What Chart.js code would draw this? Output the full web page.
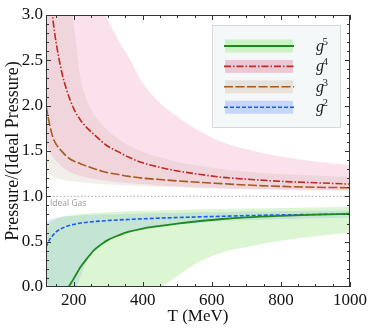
<!DOCTYPE html>
<html>
<head>
<meta charset="utf-8">
<script src="https://cdn.jsdelivr.net/npm/chart.js@4.4.0/dist/chart.umd.min.js"></script>
<style>
	html, body { margin: 0; padding: 0; background: #fff; }
	canvas { display: block; }
</style>
</head>
<body>
<canvas id="pressure-chart" width="375" height="329"></canvas>
<script>
// temperature grid (MeV)
var temps = [120, 130, 140, 150, 165, 180, 200, 220, 240, 260, 280, 300, 330, 360, 400, 450, 500, 560, 630, 700, 800, 900, 1000];

// central curves
var g5 = [-1.2, -0.85, -0.6, -0.4, -0.18, -0.04, 0.09, 0.22, 0.32, 0.41, 0.47, 0.52, 0.57, 0.61, 0.645, 0.675, 0.70, 0.725, 0.75, 0.768, 0.785, 0.798, 0.808];
var g4 = [3.9, 3.35, 2.95, 2.68, 2.38, 2.17, 1.97, 1.84, 1.75, 1.68, 1.61, 1.55, 1.49, 1.43, 1.37, 1.32, 1.28, 1.245, 1.21, 1.19, 1.165, 1.15, 1.135];
var g3 = [2.0, 1.8, 1.65, 1.57, 1.5, 1.44, 1.39, 1.36, 1.33, 1.305, 1.28, 1.26, 1.24, 1.22, 1.2, 1.185, 1.17, 1.155, 1.14, 1.125, 1.11, 1.10, 1.095];
var g2 = [0.44, 0.52, 0.57, 0.61, 0.645, 0.67, 0.69, 0.705, 0.715, 0.722, 0.728, 0.733, 0.74, 0.745, 0.752, 0.76, 0.766, 0.773, 0.78, 0.787, 0.795, 0.80, 0.805];

// uncertainty bands
var g5Low = [-3, -2.6, -2.3, -2.0, -1.7, -1.45, -1.2, -1.0, -0.85, -0.7, -0.58, -0.48, -0.35, -0.24, -0.12, -0.01, 0.12, 0.27, 0.38, 0.44, 0.51, 0.56, 0.60];
var g5High = [0.66, 0.70, 0.73, 0.75, 0.77, 0.785, 0.795, 0.805, 0.81, 0.815, 0.82, 0.825, 0.83, 0.835, 0.84, 0.845, 0.85, 0.855, 0.86, 0.865, 0.872, 0.878, 0.885];
var g4Low = [1.6, 1.5, 1.43, 1.39, 1.33, 1.29, 1.25, 1.225, 1.205, 1.19, 1.18, 1.17, 1.155, 1.145, 1.135, 1.12, 1.11, 1.10, 1.09, 1.085, 1.078, 1.073, 1.07];
var g4High = [6.5, 6.0, 5.6, 5.2, 4.8, 4.4, 4.0, 3.7, 3.45, 3.25, 3.08, 2.93, 2.72, 2.53, 2.25, 2.03, 1.88, 1.73, 1.6, 1.52, 1.44, 1.385, 1.345];
var g3Low = [1.27, 1.24, 1.22, 1.2, 1.185, 1.175, 1.165, 1.155, 1.148, 1.14, 1.135, 1.13, 1.125, 1.12, 1.11, 1.105, 1.10, 1.09, 1.085, 1.078, 1.07, 1.065, 1.06];
var g3High = [5.0, 4.6, 4.2, 3.9, 3.5, 3.2, 2.9, 2.3, 2.05, 1.9, 1.8, 1.72, 1.63, 1.56, 1.49, 1.43, 1.38, 1.34, 1.3, 1.27, 1.245, 1.23, 1.216];
var g2Low = [-1.0, -0.8, -0.65, -0.5, -0.35, -0.22, -0.08, 0.12, 0.3, 0.4, 0.46, 0.51, 0.56, 0.595, 0.63, 0.66, 0.69, 0.71, 0.725, 0.735, 0.748, 0.757, 0.765];
var g2High = [0.72, 0.74, 0.755, 0.765, 0.775, 0.78, 0.785, 0.79, 0.793, 0.796, 0.80, 0.802, 0.805, 0.808, 0.812, 0.816, 0.82, 0.824, 0.828, 0.832, 0.836, 0.84, 0.843];

var idealGas = 1.0;
var xTicks = [200, 400, 600, 800, 1000];
var yTicks = [0, 0.5, 1.0, 1.5, 2.0, 2.5, 3.0];
var legendLabels = ['5', '4', '3', '2'];

var serif = '"Liberation Serif", "DejaVu Serif", serif';

function pts(vals) {
	return temps.map(function (t, i) { return {x: t, y: vals[i]}; });
}

function line(vals, color, dash, width) {
	return {
		data: pts(vals),
		borderColor: color,
		borderWidth: width || 1.6,
		borderDash: dash,
		pointRadius: 0,
		fill: false,
		cubicInterpolationMode: 'monotone'
	};
}

function bandEdge(vals) {
	return {
		data: pts(vals),
		borderWidth: 0,
		borderColor: 'rgba(0,0,0,0)',
		pointRadius: 0,
		fill: false,
		cubicInterpolationMode: 'monotone'
	};
}

function bandTop(vals, color) {
	var ds = bandEdge(vals);
	ds.fill = '-1';
	ds.backgroundColor = color;
	return ds;
}

var colors = {
	g5: '#1e8a1e', g4: '#c22a1e', g3: '#a8581c', g2: '#1a5cf0',
	g5Band: 'rgba(120,220,90,0.26)',
	g4Band: 'rgba(230,120,170,0.22)',
	g3Band: 'rgba(170,150,120,0.15)',
	g2Band: 'rgba(110,140,255,0.22)'
};

var dashes = {
	g5: [],
	g4: [7, 2, 1.5, 2],
	g3: [9, 2.5],
	g2: [4, 2]
};

// ticks, frame, ideal-gas label and legend
var decor = {
	id: 'decor',
	afterDraw: function (chart) {
		var ctx = chart.ctx;
		var a = chart.chartArea;
		var xs = chart.scales.x, ys = chart.scales.y;
		ctx.save();
		ctx.strokeStyle = '#333';
		ctx.lineWidth = 1;
		ctx.strokeRect(a.left + 0.5, a.top + 0.5, a.right - a.left - 1, a.bottom - a.top - 1);

		ctx.beginPath();
		for (var t = 150; t <= 1000; t += 50) {
			var px = Math.round(xs.getPixelForValue(t)) + 0.5;
			var len = (t % 200 === 0) ? 5 : 3;
			ctx.moveTo(px, a.bottom); ctx.lineTo(px, a.bottom - len);
			ctx.moveTo(px, a.top); ctx.lineTo(px, a.top + len);
		}
		for (var k = 1; k < 30; k++) {
			var py = Math.round(ys.getPixelForValue(k / 10)) + 0.5;
			var l2 = (k % 5 === 0) ? 5 : 3;
			ctx.moveTo(a.left, py); ctx.lineTo(a.left + l2, py);
			ctx.moveTo(a.right, py); ctx.lineTo(a.right - l2, py);
		}
		ctx.stroke();

		// ideal gas label
		ctx.fillStyle = '#9a9a9a';
		ctx.font = '8.5px "Open Sans", sans-serif';
		ctx.textBaseline = 'top';
		ctx.fillText('Ideal Gas', a.left + 4, ys.getPixelForValue(idealGas) + 3);

		// legend
		var bx = 212, by = 25, bw = 128, bh = 102;
		ctx.fillStyle = '#f5f8f9';
		ctx.fillRect(bx, by, bw, bh);
		ctx.strokeStyle = '#d6dada';
		ctx.strokeRect(bx + 0.5, by + 0.5, bw, bh);

		var keys = ['g5', 'g4', 'g3', 'g2'];
		var swatch = {
			g5: '#cdf2c4', g4: '#ecc8d6', g3: '#e9e2da', g2: '#c8d4fc'
		};
		keys.forEach(function (key, i) {
			var cy = 46 + i * 20.4;
			ctx.fillStyle = swatch[key];
			ctx.fillRect(225, cy - 6.5, 68, 13);
			ctx.beginPath();
			ctx.setLineDash(dashes[key]);
			ctx.strokeStyle = colors[key];
			ctx.lineWidth = key === 'g5' ? 1.8 : 1.6;
			ctx.moveTo(224, cy);
			ctx.lineTo(294, cy);
			ctx.stroke();
			ctx.setLineDash([]);

			ctx.fillStyle = '#222';
			ctx.textBaseline = 'alphabetic';
			ctx.font = 'italic 16px ' + serif;
			ctx.fillText('g', 316, cy + 5);
			ctx.font = '11px ' + serif;
			ctx.fillText(legendLabels[i], 322.5, cy - 1);
		});
		ctx.restore();
	}
};

new Chart('pressure-chart', {
	type: 'line',
	data: {
		datasets: [
			line(g5, colors.g5, dashes.g5, 1.8),
			line(g4, colors.g4, dashes.g4),
			line(g3, colors.g3, dashes.g3),
			line(g2, colors.g2, dashes.g2),
			{
				data: [{x: 120, y: idealGas}, {x: 1000, y: idealGas}],
				borderColor: '#aaa',
				borderWidth: 1,
				borderDash: [1.5, 2],
				pointRadius: 0,
				fill: false
			},
			bandEdge(g5Low), bandTop(g5High, colors.g5Band),
			bandEdge(g4Low), bandTop(g4High, colors.g4Band),
			bandEdge(g3Low), bandTop(g3High, colors.g3Band),
			bandEdge(g2Low), bandTop(g2High, colors.g2Band)
		]
	},
	options: {
		responsive: false,
		animation: false,
		layout: { padding: { top: 15, right: 25, left: 0, bottom: 0 } },
		plugins: {
			legend: { display: false },
			tooltip: { enabled: false },
			filler: { drawTime: 'beforeDatasetsDraw' }
		},
		scales: {
			x: {
				type: 'linear',
				min: 120,
				max: 1000,
				grid: { display: false, drawTicks: false },
				border: { display: false },
				afterBuildTicks: function (s) { s.ticks = xTicks.map(function (v) { return {value: v}; }); },
				afterFit: function (s) { s.height = 42; },
				ticks: {
					color: '#111',
					font: { family: serif, size: 17 },
					padding: 3,
					maxRotation: 0,
					callback: function (v) { return String(v); }
				},
				title: { display: true, text: 'T (MeV)', color: '#111', font: { family: serif, size: 17 }, padding: 2 }
			},
			y: {
				min: 0,
				max: 3,
				grid: { display: false, drawTicks: false },
				border: { display: false },
				afterBuildTicks: function (s) { s.ticks = yTicks.map(function (v) { return {value: v}; }); },
				afterFit: function (s) { s.width = 46; },
				ticks: {
					color: '#111',
					font: { family: serif, size: 17 },
					padding: 3,
					callback: function (v) { return v.toFixed(1); }
				},
				title: { display: true, text: 'Pressure/(Ideal Pressure)', color: '#111', font: { family: serif, size: 18 }, padding: 2 }
			}
		}
	},
	plugins: [decor]
});
</script>
</body>
</html>
